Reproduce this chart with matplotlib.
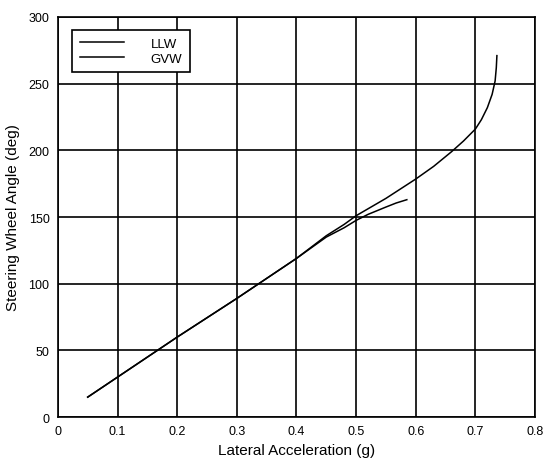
"""Steering wheel angle vs lateral acceleration (LLW / GVW)."""

import matplotlib
matplotlib.use("Agg")
import matplotlib.pyplot as plt

plt.rcParams["font.family"] = ["Liberation Sans", "DejaVu Sans"]

# LLW curve (goes up to the limit)
llw_ay = [0.05, 0.10, 0.20, 0.30, 0.40, 0.45, 0.48, 0.50, 0.55, 0.60,
          0.63, 0.66, 0.68, 0.70, 0.71, 0.72, 0.728, 0.733, 0.735, 0.736]
llw_swa = [15, 30, 60, 89, 119, 136, 144.5, 151, 164, 178.5,
           188, 199, 207, 216, 223, 232, 242, 252, 262, 271]

# GVW curve
gvw_ay = [0.05, 0.10, 0.20, 0.30, 0.40, 0.45, 0.48, 0.50, 0.52, 0.55, 0.567, 0.585]
gvw_swa = [15, 30, 60, 89, 119, 135, 142, 147.5, 152, 157.5, 160.5, 163]

x_ticks = [0, 0.1, 0.2, 0.3, 0.4, 0.5, 0.6, 0.7, 0.8]
x_ticklabels = ["0", "0.1", "0.2", "0.3", "0.4", "0.5", "0.6", "0.7", "0.8"]
y_ticks = [0, 50, 100, 150, 200, 250, 300]

fig = plt.figure(figsize=(5.46, 4.6), dpi=100)
ax = fig.add_axes([0.106, 0.091, 0.874, 0.870])

ax.plot(llw_ay, llw_swa, color="black", lw=1.1, label="LLW")
ax.plot(gvw_ay, gvw_swa, color="black", lw=1.1, label="GVW")

ax.set_xlim(0, 0.8)
ax.set_ylim(0, 300)
ax.set_xticks(x_ticks)
ax.set_xticklabels(x_ticklabels)
ax.set_yticks(y_ticks)
ax.tick_params(length=0, labelsize=9, pad=6)
ax.grid(True, color="black", lw=1.2)
for s in ax.spines.values():
    s.set_linewidth(1.2)

ax.set_xlabel("Lateral Acceleration (g)", fontsize=11, labelpad=4)
ax.set_ylabel("Steering Wheel Angle (deg)", fontsize=11, labelpad=6)

leg = ax.legend(loc="upper left", fontsize=9.5, frameon=True, fancybox=False,
                edgecolor="black", framealpha=1, handlelength=3.4,
                handletextpad=2.0, borderpad=0.6, labelspacing=0.2,
                bbox_to_anchor=(0.015, 0.985))
leg.get_frame().set_linewidth(1.2)

fig.savefig("out.png", dpi=100)
